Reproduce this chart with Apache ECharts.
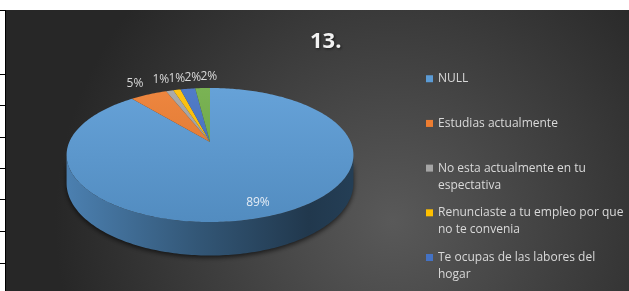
<!DOCTYPE html>
<html>
<head>
    <title>13.</title>
    <script src="https://cdn.jsdelivr.net/npm/echarts@6/dist/echarts.min.js"></script>
    <style>
        html, body { margin:0; padding:0; background:#fff; }
    </style>
</head>
<body>
    <div id="chart" style="width:629px; height:291px"></div>

    <script>
        // datos del grafico
        const titleText = '13.';
        const categories = [
            'NULL',
            'Estudias actualmente',
            'No esta actualmente en tu\nespectativa',
            'Renunciaste a tu empleo por que\nno te convenia',
            'Te ocupas de las labores del\nhogar',
            'Otro'
        ];
        const values = [89, 5, 1, 1, 2, 2];
        const colors = ['#5b9bd5', '#ed7d31', '#a5a5a5', '#ffc000', '#4472c4', '#70ad47'];

        let chart = echarts.init(document.getElementById('chart'));

        // geometria del pastel 3D (perspectiva simple)
        const CX = 210, CY = 142, BX = 140.7, BY = 64.5, K = -0.194, DEPTH = 27;
        const TH_R = Math.acos(K), TH_L = 2 * Math.PI - Math.acos(K);

        function proj(t, r, h) {
            let u = r * Math.sin(t), v = -r * Math.cos(t);
            let d = 1 + K * v;
            return [CX + BX * u / d, CY + BY * v / d + h * DEPTH / d];
        }

        // mezcla un color con blanco (t>0) o con negro (t<0)
        function shade(c, t) {
            let rgb = echarts.color.parse(c);
            let out = [0, 1, 2].map(j => Math.round(t > 0 ? rgb[j] + (255 - rgb[j]) * t : rgb[j] * (1 + t)));
            return 'rgb(' + out.join(',') + ')';
        }

        const total = values.reduce((s, v) => s + v, 0);
        const starts = [];
        let acc = 0;
        values.forEach(v => { starts.push(acc / total * 2 * Math.PI); acc += v; });

        // posicion de etiquetas
        const labelPos = values.map((v, i) => {
            let mid = starts[i] + v / total * Math.PI;
            return proj(mid, v / total > 0.3 ? 0.85 : 1.27, 0);
        });
        for (let i = 1; i < values.length; i++) {
            if (values[i] / total > 0.3 || values[i - 1] / total > 0.3) continue;
            let p = labelPos[i - 1], q = labelPos[i];
            if (Math.abs(q[1] - p[1]) < 12 && q[0] - p[0] < 16) q[0] = p[0] + 16;
        }

        function arc(a, b, h) {
            let pts = [];
            let n = Math.max(2, Math.ceil((b - a) / (Math.PI / 180)));
            for (let j = 0; j <= n; j++) pts.push(proj(a + (b - a) * j / n, 1, h));
            return pts;
        }

        function makeRender(i) {
            return function (params, api) {
                let a = starts[i];
                let b = a + api.value(0) / total * 2 * Math.PI;
                let c = colors[i];
                let children = [];

                let sa = Math.max(a, TH_R), sb = Math.min(b, TH_L);
                if (sa < sb) {
                    let side = arc(sa, sb, 0).concat(arc(sa, sb, 1).reverse());
                    children.push({
                        type: 'polygon',
                        z2: 1,
                        shape: { points: side },
                        style: {
                            fill: {
                                type: 'linear', x: CX - BX, y: 0, x2: CX + BX, y2: 0, global: true,
                                colorStops: [
                                    { offset: 0, color: shade(c, -0.18) },
                                    { offset: 0.45, color: shade(c, -0.44) },
                                    { offset: 0.85, color: shade(c, -0.64) },
                                    { offset: 1, color: shade(c, -0.6) }
                                ]
                            },
                            shadowBlur: 5,
                            shadowColor: 'rgba(0,0,0,0.65)',
                            shadowOffsetY: 2
                        }
                    });
                }

                children.push({
                    type: 'polygon',
                    z2: 10,
                    shape: { points: [[CX, CY]].concat(arc(a, b, 0)) },
                    style: {
                        fill: {
                            type: 'linear', x: 0, y: CY - 54, x2: 0, y2: CY + 80, global: true,
                            colorStops: [
                                { offset: 0, color: shade(c, 0.07) },
                                { offset: 1, color: shade(c, -0.1) }
                            ]
                        }
                    }
                });

                let inside = values[i] / total > 0.3;
                children.push({
                    type: 'text',
                    z2: 20,
                    x: labelPos[i][0],
                    y: labelPos[i][1],
                    style: {
                        text: Math.round(values[i] / total * 100) + '%',
                        fill: inside ? '#e4ecf5' : '#d9d9d9',
                        font: '12px "Open Sans"',
                        align: 'center',
                        verticalAlign: 'middle'
                    }
                });

                return { type: 'group', children: children };
            };
        }

        let leftLines = [10, 74, 105, 137, 168, 199, 231, 263];

        let option = {
            backgroundColor: '#fff',
            animation: false,
            title: {
                text: titleText,
                left: 310,
                top: 21,
                padding: 0,
                textStyle: {
                    color: '#f2f2f2',
                    fontSize: 22,
                    fontWeight: 'bold',
                    fontFamily: 'Open Sans',
                    textShadowColor: 'rgba(0,0,0,0.6)',
                    textShadowBlur: 3,
                    textShadowOffsetX: 1,
                    textShadowOffsetY: 1
                }
            },
            legend: {
                orient: 'vertical',
                left: 426,
                top: 52,
                height: 320,
                padding: 0,
                itemWidth: 7,
                itemHeight: 7,
                itemGap: -8.8,
                icon: 'rect',
                selectedMode: false,
                data: categories.slice(0, 5),
                formatter: function (name) {
                    return '\n' + name + (name.indexOf('\n') >= 0 ? '' : '\n');
                },
                textStyle: {
                    color: '#d9d9d9',
                    fontSize: 12,
                    fontFamily: 'Open Sans',
                    lineHeight: 17
                }
            },
            graphic: [
                {
                    type: 'rect',
                    z: -10,
                    silent: true,
                    shape: { x: 6, y: 10, width: 623, height: 281 },
                    style: {
                        fill: {
                            type: 'radial', x: 0.62, y: 0.75, r: 1.2,
                            colorStops: [
                                { offset: 0, color: '#595959' },
                                { offset: 1, color: '#272727' }
                            ]
                        }
                    }
                },
                {
                    type: 'line', z: -5, silent: true,
                    shape: { x1: 5.5, y1: 10, x2: 5.5, y2: 291 },
                    style: { stroke: '#000', lineWidth: 1 }
                }
            ].concat(leftLines.map(y => ({
                type: 'line', z: -5, silent: true,
                shape: { x1: 0, y1: y + 0.5, x2: 6, y2: y + 0.5 },
                style: { stroke: '#000', lineWidth: 1 }
            }))),
            series: values.map((v, i) => ({
                name: categories[i],
                type: 'custom',
                coordinateSystem: 'none',
                silent: true,
                itemStyle: { color: colors[i] },
                renderItem: makeRender(i),
                data: [[v]]
            }))
        };

        chart.setOption(option);
    </script>
</body>
</html>
